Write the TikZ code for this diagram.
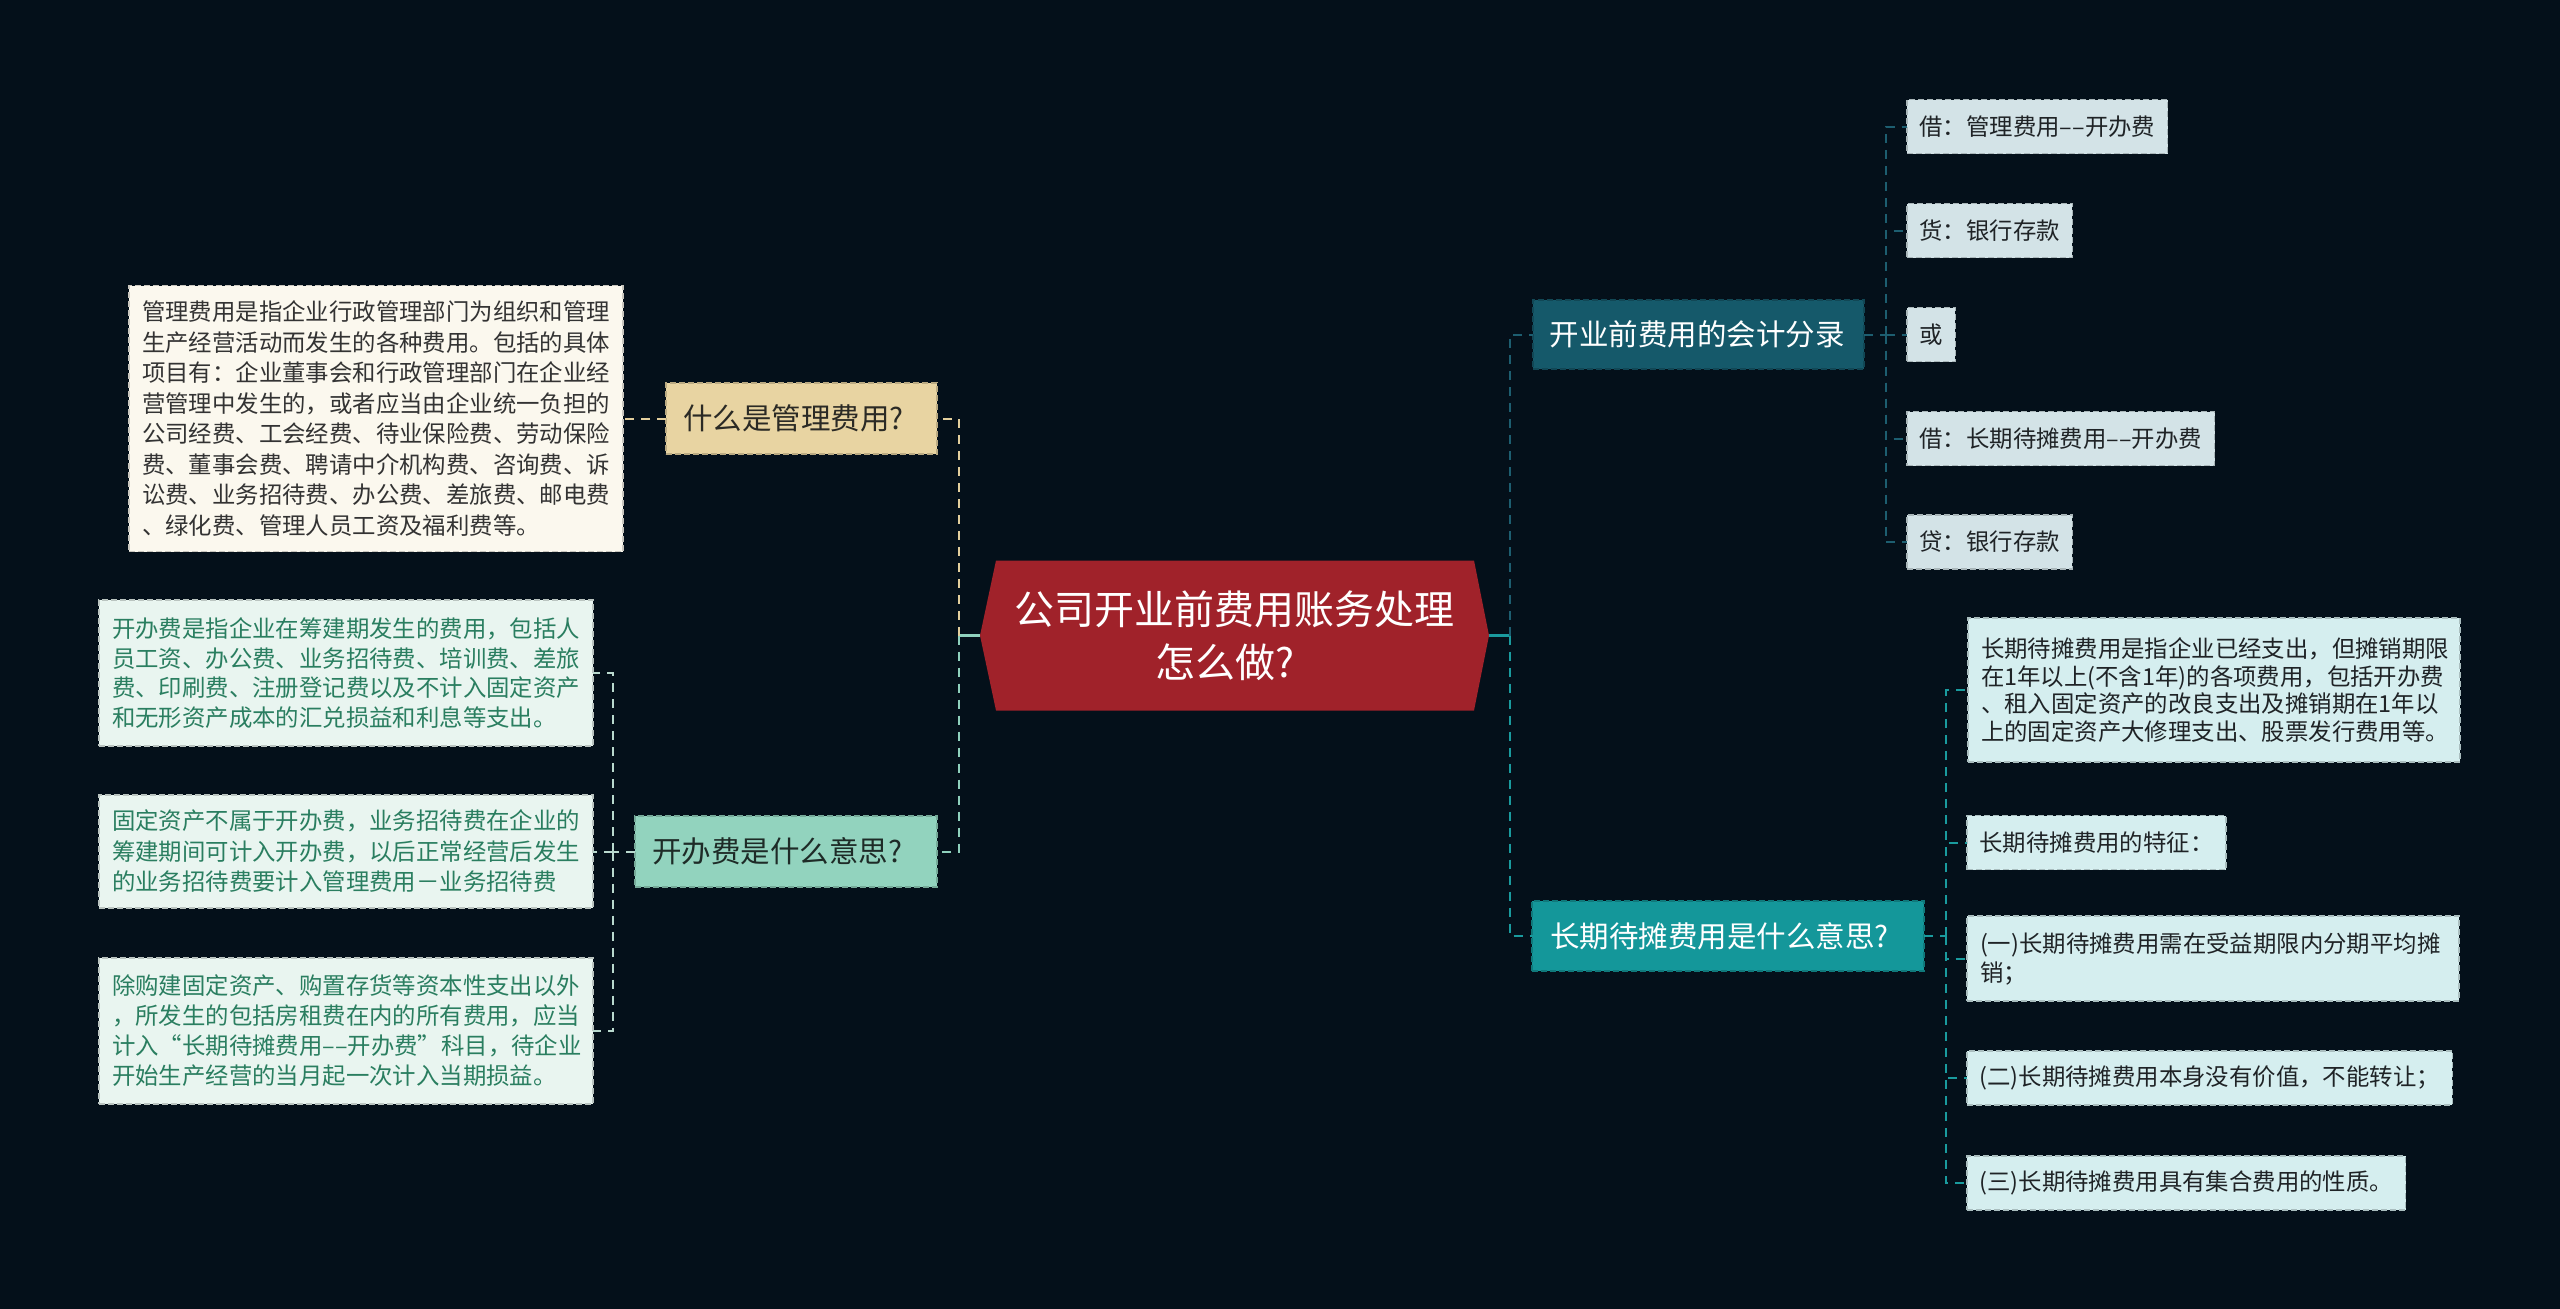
\documentclass[tikz,border=0pt]{standalone}
\usepackage{fontspec}
\setmainfont{Noto Sans CJK SC}
\definecolor{bgc}{HTML}{04101A}
\definecolor{rootred}{HTML}{A0222A}
\definecolor{cA}{HTML}{E8D4A2}
\definecolor{tA}{HTML}{2B2A25}
\definecolor{cAL}{HTML}{FBF8EE}
\definecolor{tAL}{HTML}{333333}
\definecolor{cB}{HTML}{92D3BE}
\definecolor{tB}{HTML}{1E2B27}
\definecolor{cBL}{HTML}{E9F5F0}
\definecolor{tBL}{HTML}{2A7E60}
\definecolor{cC}{HTML}{15596A}
\definecolor{cCL}{HTML}{D3E3E7}
\definecolor{cD}{HTML}{14979A}
\definecolor{cDL}{HTML}{D5EEEF}
\definecolor{tL}{HTML}{1F2326}
\definecolor{lBeige}{HTML}{E3CF9D}
\definecolor{lMint}{HTML}{8FD1BD}
\definecolor{lBL}{HTML}{B9D9CE}
\definecolor{lDark}{HTML}{1D5E70}
\definecolor{lTeal}{HTML}{1A9B9E}
\begin{document}
\begin{tikzpicture}[x=1pt,y=-1pt,
  every node/.style={inner sep=0pt, outer sep=0pt},
  nodebox/.style={rectangle, fill=#1, draw=#1!80!black, line width=1.4pt, dash pattern=on 6pt off 3pt},
  lvlone/.style={font=\fontsize{29.5}{35}\selectfont, align=left, minimum height=70pt},
  leafm/.style={font=\fontsize{23.4}{#1}\selectfont, align=left, text width=468pt, inner xsep=13pt},
  leafs/.style={font=\fontsize{23.4}{28}\selectfont, anchor=west, inner xsep=12.5pt, minimum height=54pt},
  conn/.style={line width=2pt, dash pattern=on 9pt off 7pt},
  rootlink/.style={line width=3pt}
]
\fill[bgc] (0,0) rectangle (2560,1309);
\useasboundingbox (0,0) rectangle (2560,1309);

% root
\node[minimum width=509pt, minimum height=150pt] (root) at (1234.5,635.5) {};
\fill[rootred] (root.west) -- ([xshift=16pt]root.north west) -- ([xshift=-15pt]root.north east) -- (root.east) -- ([xshift=-15pt]root.south east) -- ([xshift=16pt]root.south west) -- cycle;
\node[align=center, text=white, font=\fontsize{40}{53}\selectfont] (roottxt) at (root.center) {公司开业前费用账务处理\\怎么做?\rule{20pt}{0pt}};

% level one
\node[lvlone, nodebox=cA, text=tA, text width=237pt, inner xsep=17pt, minimum height=71pt] (A) at (801.5,418.5) {什么是管理费用?};
\node[lvlone, nodebox=cB, text=tB, text width=268pt, inner xsep=17pt, minimum height=71pt] (B) at (786,851.5) {开办费是什么意思?};
\node[lvlone, nodebox=cC, text=white, text width=298pt, inner xsep=16.5pt, minimum height=69pt] (C) at (1698.5,334.5) {开业前费用的会计分录};
\node[lvlone, nodebox=cD, text=white, text width=356pt, inner xsep=18pt, minimum height=70pt] (D) at (1728,936) {长期待摊费用是什么意思?};

% left leaves
\node[leafm=30.5, nodebox=cAL, text=tAL, minimum height=266pt] (A1) at (376,418.5) {管理费用是指企业行政管理部门为组织和管理\\生产经营活动而发生的各种费用。包括的具体\\项目有：企业董事会和行政管理部门在企业经\\营管理中发生的，或者应当由企业统一负担的\\公司经费、工会经费、待业保险费、劳动保险\\费、董事会费、聘请中介机构费、咨询费、诉\\讼费、业务招待费、办公费、差旅费、邮电费\\、绿化费、管理人员工资及福利费等。};

\node[leafm=29.5, nodebox=cBL, text=tBL, minimum height=146pt] (B1) at (346,673) {开办费是指企业在筹建期发生的费用，包括人\\员工资、办公费、业务招待费、培训费、差旅\\费、印刷费、注册登记费以及不计入固定资产\\和无形资产成本的汇兑损益和利息等支出。};
\node[leafm=30.5, nodebox=cBL, text=tBL, minimum height=113pt] (B2) at (346,851.5) {固定资产不属于开办费，业务招待费在企业的\\筹建期间可计入开办费，以后正常经营后发生\\的业务招待费要计入管理费用－业务招待费};
\node[leafm=30, nodebox=cBL, text=tBL, minimum height=146pt] (B3) at (346,1031) {除购建固定资产、购置存货等资本性支出以外\\，所发生的包括房租费在内的所有费用，应当\\\mbox{计入“长期待摊费用––开办费”科目，待企业}\\开始生产经营的当月起一次计入当期损益。};

% right leaves of C
\node[leafs, nodebox=cCL, text=tL] (C1) at (1907,126.5) {借：管理费用––开办费};
\node[leafs, nodebox=cCL, text=tL] (C2) at (1907,230.5) {货：银行存款};
\node[leafs, nodebox=cCL, text=tL] (C3) at (1907,334.5) {或};
\node[leafs, nodebox=cCL, text=tL] (C4) at (1907,438.5) {借：长期待摊费用––开办费};
\node[leafs, nodebox=cCL, text=tL] (C5) at (1907,542) {贷：银行存款};

% right leaves of D
\node[leafm=27.5, nodebox=cDL, text=tL, minimum height=144pt, text width=466pt] (D1) at (2214,690) {长期待摊费用是指企业已经支出，但摊销期限\\在1年以上(不含1年)的各项费用，包括开办费\\、租入固定资产的改良支出及摊销期在1年以\\上的固定资产大修理支出、股票发行费用等。};
\node[leafs, nodebox=cDL, text=tL] (D2) at (1967,842.5) {长期待摊费用的特征：};
\node[leafm=29, nodebox=cDL, text=tL, minimum height=85pt, text width=466pt] (D3) at (2213,958.5) {(一)长期待摊费用需在受益期限内分期平均摊\\销；};
\node[leafs, nodebox=cDL, text=tL] (D4) at (1967,1078) {(二)长期待摊费用本身没有价值，不能转让；};
\node[leafs, nodebox=cDL, text=tL] (D5) at (1967,1183) {(三)长期待摊费用具有集合费用的性质。};

% connectors left
\coordinate (jl) at (959,635.5);
\draw[rootlink, lMint] (root.west) -- (jl);
\draw[conn, lBeige] (jl) |- (A.east);
\draw[conn, lMint] (jl) |- (B.east);
\draw[conn, lBeige] (A.west) -- (A1.east);
\coordinate (jb) at (613,851.5);
\draw[conn, lBL] (B.west) -- (jb);
\draw[conn, lBL] (jb) |- (B1.east);
\draw[conn, lBL] (jb) -- (B2.east);
\draw[conn, lBL] (jb) |- (B3.east);

% connectors right
\coordinate (jr) at (1510,635.5);
\draw[rootlink, lTeal] (root.east) -- (jr);
\draw[conn, lDark] (jr) |- (C.west);
\draw[conn, lTeal] (jr) |- (D.west);
\coordinate (jc) at (1885.5,334.5);
\draw[conn, lDark] (C.east) -- (jc);
\draw[conn, lDark] (jc) |- (C1.west);
\draw[conn, lDark] (jc) |- (C2.west);
\draw[conn, lDark] (jc) -- (C3.west);
\draw[conn, lDark] (jc) |- (C4.west);
\draw[conn, lDark] (jc) |- (C5.west);
\coordinate (jd) at (1946,936);
\draw[conn, lTeal] (D.east) -- (jd);
\draw[conn, lTeal] (jd) |- (D1.west);
\draw[conn, lTeal] (jd) |- (D2.west);
\draw[conn, lTeal] (jd) |- (D3.west);
\draw[conn, lTeal] (jd) |- (D4.west);
\draw[conn, lTeal] (jd) |- (D5.west);
\end{tikzpicture}
\end{document}
